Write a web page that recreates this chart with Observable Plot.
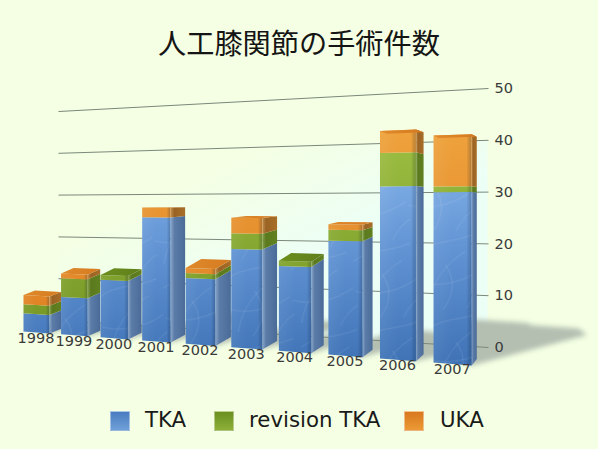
<!DOCTYPE html>
<html lang="ja">
<head>
<meta charset="utf-8">
<script src="https://cdn.jsdelivr.net/npm/d3@7"></script>
<script src="https://cdn.jsdelivr.net/npm/@observablehq/plot@0.6"></script>
<style>
html,body{margin:0;padding:0;width:598px;height:449px;overflow:hidden;background:#f4ffe3;}
#title{height:62px;text-align:center;font:400 28.2px/84px "Noto Sans CJK JP",sans-serif;color:#151515;white-space:nowrap;}
#chart{height:330px;}
#chart svg{display:block;background:transparent;overflow:visible;}
#legend{position:relative;height:57px;font:21.3px "DejaVu Sans",sans-serif;color:#1a1a1a;}
#legend i{position:absolute;top:19px;width:18px;height:18px;border:.5px solid #ffffff70;}
#legend span{position:absolute;top:13px;line-height:30px;white-space:nowrap;}
</style>
</head>
<body>
<div id="title">人工膝関節の手術件数</div>
<div id="chart"></div>
<div id="legend">
  <i style="left:110px;background:linear-gradient(#4a7cc0,#6fa0d8)"></i><span style="left:145px">TKA</span>
  <i style="left:214px;background:linear-gradient(#6b9020,#8db038)"></i><span style="left:249px">revision TKA</span>
  <i style="left:404px;background:linear-gradient(#d9781f,#eb9a35)"></i><span style="left:440px">UKA</span>
</div>
<script>
const years = [1998,1999,2000,2001,2002,2003,2004,2005,2006,2007];
const tka      = [4, 8, 12, 25, 13, 19, 16, 21, 31, 30];
const revision = [2, 4, 1, 0, 1, 3, 1, 2, 6, 1];
const uka      = [2, 1, 0, 2, 1, 3, 0, 1, 4, 9];
const ticks = [0,10,20,30,40,50];
const seriesNames = ["blue","green","orange"];
const seriesValues = [tka, revision, uka];

// perspective projection of the chart's 3-D box onto the page
const toValue = py => (347 - py) / 5.18;
const left = i => 23 + 36.56*i + i*i;
const frontW = i => 26 + .55*i + .09*i*i;
const sideW = d3.scaleLinear([0,4.5,9],[11.5,16,5]);
const depthK = d3.scaleLinear([0,4,9],[.6,1.2,.85]);
const unit = i => 4.55 + .125*i;
const base = i => 331 + .0756*(left(i) - 23);
const HORIZON = 205;
function front(i, v, f){
  const yl = base(i) - unit(i)*v;
  const slope = .0756*(yl - HORIZON)/(base(i) - HORIZON);
  return [left(i) + f*frontW(i), yl + f*frontW(i)*slope];
}
function back(i, v, f){
  const [x,y] = front(i, v, f);
  const d = y > HORIZON ? Math.min(7.5, .13*(y-HORIZON)) : .04*(y-HORIZON);
  return [x + sideW(i), y - d*depthK(i)];
}

const polys = {side:[], front:[], gloss:[], swirl:[], cap:[], shadow:[]};
function poly(list, id, fill, pts){ pts.forEach(p => list.push({id, fill, x:p[0], y:toValue(p[1])})); }
years.forEach((yr,i) => {
  let v = 0, topS = 0;
  seriesValues.forEach((vals,s) => {
    const h = vals[i];
    if (h > 0){
      const id = `${yr}-${s}`;
      poly(polys.side, id, `url(#side-${seriesNames[s]})`, [front(i,v,1),front(i,v+h,1),back(i,v+h,1),back(i,v,1)]);
      poly(polys.front, id, `url(#front-${seriesNames[s]})`, [front(i,v,0),front(i,v,1),front(i,v+h,1),front(i,v+h,0)]);
      topS = s;
    }
    v += h;
  });
  const rect = [front(i,0,0),front(i,0,1),front(i,v,1),front(i,v,0)];
  poly(polys.gloss, yr, "url(#gloss)", rect);
  poly(polys.swirl, yr, "url(#swirl)", [front(i,0,0),front(i,0,1),front(i,tka[i],1),front(i,tka[i],0)]);
  poly(polys.cap, yr, `url(#cap-${seriesNames[topS]})`, [front(i,v,0),front(i,v,1),back(i,v,1),back(i,v,0)]);
  const fr = front(i,0,1), br = back(i,0,1), bl = back(i,0,0);
  poly(polys.shadow, yr, "#b4bfb2", [fr,[br[0]+2.75*v,br[1]-.6*v],[br[0]+2.55*v,br[1]-.76*v],[br[0]+1.3*v,br[1]-.85*v],bl]);
});
const wall = [];
poly(wall,"w","url(#wall)",[[58,320],[487,347],[487,140],[58,153]]);
const grid = ticks.map(v => ({v, left:toValue(320 - 4.18*v)}));
const labels = years.map((yr,i) => ({yr, x:left(i)+frontW(i)/2 - .5, y:toValue(base(i)+7)}));

const polyMark = (data, extra={}) => Plot.line(data, {x:"x", y:"y", z:"id", stroke:"none", fill:{value:"fill", scale:null}, ...extra});

const chart = Plot.plot({
  width:598, height:330, marginLeft:0, marginRight:108, marginTop:0, marginBottom:0,
  style:{background:"transparent", fontFamily:"DejaVu Sans", fontSize:"14.5px", color:"#3a3a3a"},
  x:{domain:[0,490], range:[0,490], axis:null},
  y:{domain:[0,50], range:[285,26], axis:null},
  marks:[
    polyMark(wall),
    polyMark(polys.shadow, {imageFilter:"blur(2.5px)"}),
    Plot.link(grid, {x1:()=>58, y1:"left", x2:()=>488, y2:"v", stroke:"#7b887b", strokeWidth:1}),
    Plot.axisY(ticks, {anchor:"right", tickSize:0, tickPadding:4, label:null, fontSize:14.5, fill:"#3a3a3a"}),
    polyMark(polys.side),
    polyMark(polys.front),
    polyMark(polys.swirl),
    polyMark(polys.gloss),
    polyMark(polys.cap),
    Plot.text(labels, {x:"x", y:"y", text:d=>String(d.yr), fontSize:14.5, fill:"#3a3a3a", fontFamily:"DejaVu Sans"})
  ]
});

const stops = (id, attrs, list) =>
  `<linearGradient id="${id}" ${attrs}>` + list.map(([o,c,a=1]) => `<stop offset="${o}" stop-color="${c}" stop-opacity="${a}"/>`).join("") + `</linearGradient>`;
const vUser = `gradientUnits="userSpaceOnUse" x1="0" x2="0" y1="70" y2="300"`;
const horiz = `x1="0" x2="1" y1="0" y2="0"`;
const defs = document.createElementNS("http://www.w3.org/2000/svg","defs");
defs.innerHTML = [
  stops("front-blue", vUser, [[0,"#8dbbee"],[.5,"#6294d4"],[1,"#3f73b6"]]),
  stops("front-green", vUser, [[0,"#9dbf42"],[1,"#6f9020"]]),
  stops("front-orange", vUser, [[0,"#eea23c"],[1,"#dc7a1e"]]),
  stops("side-blue", horiz, [[0,"#8aa6c9"],[.25,"#5c7ca8"],[1,"#4a6b98"]]),
  stops("side-green", horiz, [[0,"#86a050"],[.25,"#5b7a1e"],[1,"#618020"]]),
  stops("side-orange", horiz, [[0,"#c29050"],[.25,"#9a6324"],[1,"#a86e28"]]),
  stops("cap-blue", horiz, [[0,"#6d9fdc"],[1,"#4a6b98"]]),
  stops("cap-green", horiz, [[0,"#6d8f1e"],[1,"#5f7f1a"]]),
  stops("cap-orange", horiz, [[0,"#e08a2c"],[1,"#d57a20"]]),
  stops("gloss", horiz, [[0,"#ffffff",.06],[.5,"#ffffff",0],[.86,"#000000",0],[.97,"#102040",.22],[1,"#102040",.1]]),
  stops("wall", `x1="0" x2="1" y1="0" y2="1"`, [[.25,"#ecfff7",0],[.6,"#ecfff7",1],[1,"#ecfff7",1]]),
  `<pattern id="swirl" patternUnits="userSpaceOnUse" width="64" height="78" patternTransform="rotate(-8)">
     <g fill="none" stroke="#ffffff" stroke-opacity=".1" stroke-width="1">
       <path d="M2 12C18 2 38 8 60 2"/><path d="M6 66C12 44 30 26 50 18"/><path d="M20 72C34 58 36 42 28 28"/>
       <path d="M0 42C18 50 44 48 62 38"/><path d="M44 74C52 62 60 58 64 56"/>
     </g></pattern>`
].join("");
chart.prepend(defs);
document.getElementById("chart").append(chart);
</script>
</body>
</html>
